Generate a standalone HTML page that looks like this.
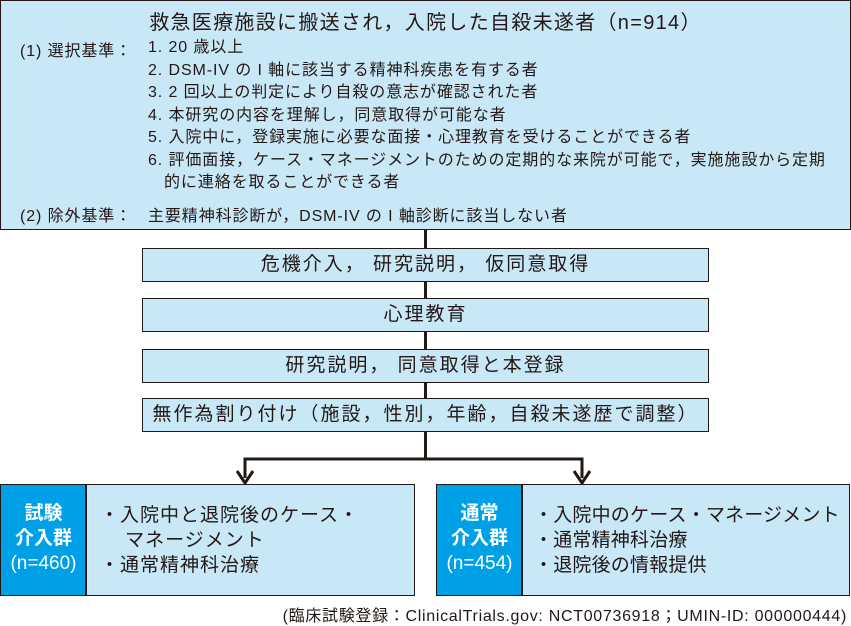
<!DOCTYPE html><html><head><meta charset="utf-8"><style>
body{margin:0;width:851px;height:624px;background:#fff;position:relative;overflow:hidden;font-family:"Liberation Sans","Noto Sans CJK JP",sans-serif;color:#231815}
.a{position:absolute;white-space:nowrap}
.bx{position:absolute;background:#c8e8f8;border:1.5px solid #231815;box-sizing:border-box}
.m{left:142px;width:567px;height:34px;font-size:19px;letter-spacing:2px;text-align:center;line-height:32px}
.t{font-size:16px;letter-spacing:0.9px}
.blue{position:absolute;background:#00a0e6;color:#fff;font-weight:bold;font-size:19px;text-align:center;line-height:25px;box-sizing:border-box}
</style></head><body>
<div class="bx" style="left:0;top:0;width:851px;height:230px"></div>
<div class="a" style="left:0;width:851px;text-align:center;top:6px;font-size:20px;letter-spacing:1.3px">救急医療施設に搬送され，入院した自殺未遂者（n=914）</div>
<div class="a t" style="left:20px;top:37px">(1) 選択基準：</div>
<div class="a t" style="left:148px;top:37px;line-height:22.5px">1. 20 歳以上<br>2. DSM-IV の I 軸に該当する精神科疾患を有する者<br>3. 2 回以上の判定により自殺の意志が確認された者<br>4. 本研究の内容を理解し，同意取得が可能な者<br>5. 入院中に，登録実施に必要な面接・心理教育を受けることができる者<br>6. 評価面接，ケース・マネージメントのための定期的な来院が可能で，実施施設から定期<br>&nbsp;&nbsp;&nbsp;的に連絡を取ることができる者</div>
<div class="a t" style="left:20px;top:202px">(2) 除外基準：</div>
<div class="a t" style="left:148px;top:202px">主要精神科診断が，DSM-IV の I 軸診断に該当しない者</div>
<div class="a" style="left:424px;top:229px;width:3px;height:230px;background:#231815"></div>
<div class="bx m" style="top:248px">危機介入， 研究説明， 仮同意取得</div>
<div class="bx m" style="top:298px">心理教育</div>
<div class="bx m" style="top:349px">研究説明， 同意取得と本登録</div>
<div class="bx m" style="top:398px">無作為割り付け（施設，性別，年齢，自殺未遂歴で調整）</div>
<svg class="a" style="left:0;top:0" width="851" height="624">
<polyline points="245,478 245,459 582,459 582,478" fill="none" stroke="#231815" stroke-width="3"/>
<polyline points="237,471 245,483 253,471" fill="none" stroke="#231815" stroke-width="3"/>
<polyline points="574,471 582,483 590,471" fill="none" stroke="#231815" stroke-width="3"/>
</svg>
<div class="bx" style="left:0;top:484px;width:415px;height:112px"></div>
<div class="blue" style="left:1px;top:485px;width:85px;height:110px;padding-top:16px">試験<br>介入群<br><span style="font-weight:normal">(n=460)</span></div>
<div class="a" style="left:85px;top:485px;width:1.5px;height:110px;background:#231815"></div>
<div class="a" style="left:100px;top:503px;font-size:19px;letter-spacing:1px;line-height:25px">・入院中と退院後のケース・<br>&nbsp;&nbsp;&nbsp;&nbsp;マネージメント<br>・通常精神科治療</div>
<div class="bx" style="left:436px;top:484px;width:414px;height:112px"></div>
<div class="blue" style="left:437px;top:485px;width:85px;height:110px;padding-top:16px">通常<br>介入群<br><span style="font-weight:normal">(n=454)</span></div>
<div class="a" style="left:521px;top:485px;width:1.5px;height:110px;background:#231815"></div>
<div class="a" style="left:534px;top:503px;font-size:19px;letter-spacing:0.2px;line-height:25px">・入院中のケース・マネージメント<br>・通常精神科治療<br>・退院後の情報提供</div>
<div class="a" style="right:4px;top:602px;font-size:16px;letter-spacing:0.7px">(臨床試験登録：ClinicalTrials.gov: NCT00736918；UMIN-ID: 000000444)</div>
</body></html>
